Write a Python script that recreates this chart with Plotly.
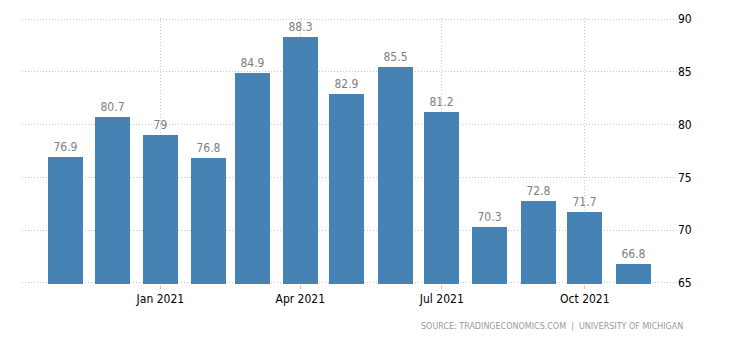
import plotly.graph_objects as go

# Monthly consumer sentiment readings
months = ["2020-11-01", "2020-12-01", "2021-01-01", "2021-02-01", "2021-03-01",
          "2021-04-01", "2021-05-01", "2021-06-01", "2021-07-01", "2021-08-01",
          "2021-09-01", "2021-10-01", "2021-11-01"]
values = [76.9, 80.7, 79, 76.8, 84.9, 88.3, 82.9, 85.5, 81.2, 70.3, 72.8, 71.7, 66.8]
labels = ["76.9", "80.7", "79", "76.8", "84.9", "88.3", "82.9", "85.5", "81.2",
          "70.3", "72.8", "71.7", "66.8"]

x_tickvals = ["2021-01-01", "2021-04-01", "2021-07-01", "2021-10-01"]
x_ticktext = ["Jan 2021", "Apr 2021", "Jul 2021", "Oct 2021"]
y_tickvals = [65, 70, 75, 80, 85, 90]

BAR_WIDTH_MS = 22.5 * 86400000
LABEL_FONT = "DejaVu Sans Condensed"
GRID = dict(showgrid=True, gridcolor="#c8c8c8", griddash="1px,2px", gridwidth=1)

fig = go.Figure(
    go.Bar(
        x=months,
        y=values,
        width=[BAR_WIDTH_MS] * len(values),
        marker=dict(color="#4682b4", line=dict(width=0)),
        text=labels,
        textposition="outside",
        textfont=dict(family=LABEL_FONT, size=12, color="#808080"),
        cliponaxis=False,
        hoverinfo="skip",
    )
)

fig.update_layout(
    width=730,
    height=340,
    margin=dict(l=22, r=53, t=18, b=56),
    paper_bgcolor="white",
    plot_bgcolor="white",
    showlegend=False,
    bargap=0,
    xaxis=dict(
        type="date",
        range=["2020-10-04", "2021-11-29 07:00"],
        tickvals=x_tickvals,
        ticktext=x_ticktext,
        ticks="outside",
        ticklen=4,
        tickcolor="#cccccc",
        showline=False,
        zeroline=False,
        tickfont=dict(family=LABEL_FONT, size=12, color="#000000"),
        **GRID,
    ),
    yaxis=dict(
        side="right",
        range=[64.9, 90.1],
        tickvals=y_tickvals,
        ticks="",
        showline=False,
        zeroline=False,
        tickfont=dict(family=LABEL_FONT, size=12, color="#000000"),
        **GRID,
    ),
    annotations=[
        dict(
            text="SOURCE: TRADINGECONOMICS.COM  |  UNIVERSITY OF MICHIGAN",
            xref="paper",
            yref="paper",
            x=1.012,
            y=-0.158,
            xanchor="right",
            yanchor="middle",
            showarrow=False,
            font=dict(family="DejaVu Sans", size=8, color="#9a9a9a"),
        )
    ],
)

fig.write_html("out.html")
